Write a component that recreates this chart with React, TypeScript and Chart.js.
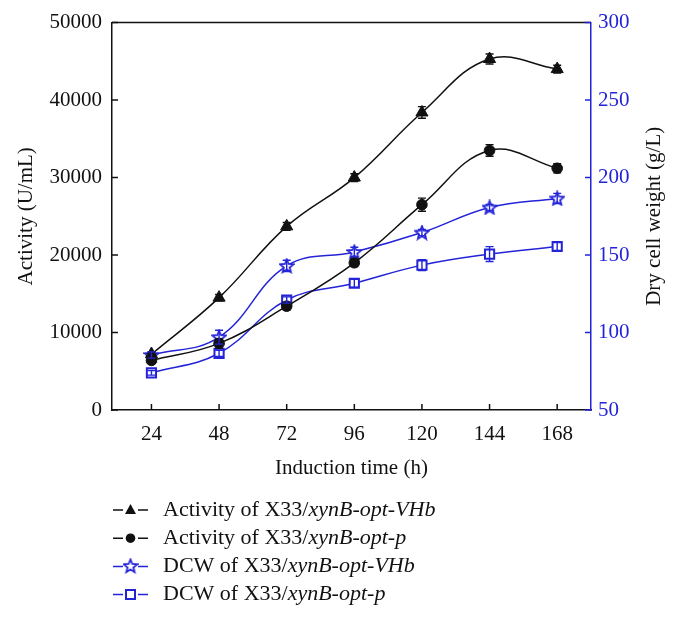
import React, { useEffect, useRef } from 'react';
import { Chart, registerables } from 'chart.js';

Chart.register(...registerables);

const hours = [24, 48, 72, 96, 120, 144, 168];
const activityVHb = [7200, 14500, 23700, 30000, 38400, 45300, 44000];
const activityVHbErr = [300, 400, 500, 500, 750, 650, 500];
const activityP = [6400, 8600, 13400, 19000, 26500, 33500, 31200];
const activityPErr = [400, 600, 500, 500, 850, 750, 600];
const dcwVHb = [85.5, 97, 143, 152, 164.5, 180.7, 186.5];
const dcwVHbErr = [2, 4.5, 3.6, 3, 2, 2, 3.3];
const dcwP = [74, 86.6, 121, 131.8, 143.5, 150.6, 155.5];
const dcwPErr = [1.5, 2, 2, 2.5, 3.5, 4.8, 2.5];

const leftTicks = [0, 10000, 20000, 30000, 40000, 50000];
const rightTicks = [50, 100, 150, 200, 250, 300];

const xTitle = 'Induction time (h)';
const leftTitle = 'Activity (U/mL)';
const rightTitle = 'Dry cell weight (g/L)';

const legendLabels = [
  [['Activity of X33/', false], ['xynB-opt-VHb', true]],
  [['Activity of X33/', false], ['xynB-opt-p', true]],
  [['DCW of X33/', false], ['xynB-opt-VHb', true]],
  [['DCW of X33/', false], ['xynB-opt-p', true]],
] as [string, boolean][][];

const BLUE = '#2323d8';
const BLACK = '#111111';
const FONT = "'Liberation Serif', 'Times New Roman', serif";

function makeStar(color: string): HTMLCanvasElement {
  const c = document.createElement('canvas');
  c.width = 16;
  c.height = 16;
  const ctx = c.getContext('2d')!;
  const cx = 8, cy = 8.5, R = 7, r = 3.1;
  ctx.beginPath();
  for (let i = 0; i < 10; i++) {
    const rad = i % 2 === 0 ? R : r;
    const a = -Math.PI / 2 + (i * Math.PI) / 5;
    const x = cx + rad * Math.cos(a);
    const y = cy + rad * Math.sin(a);
    if (i === 0) ctx.moveTo(x, y);
    else ctx.lineTo(x, y);
  }
  ctx.closePath();
  ctx.fillStyle = '#ffffff';
  ctx.fill();
  ctx.lineWidth = 1.8;
  ctx.strokeStyle = color;
  ctx.stroke();
  return c;
}

export default function App() {
  const ref = useRef<HTMLCanvasElement | null>(null);

  useEffect(() => {
    const canvas = ref.current;
    if (!canvas) return;
    const star = makeStar(BLUE);

    const errors = [activityVHbErr, activityPErr, dcwVHbErr, dcwPErr];

    const framePlugin = {
      id: 'frame',
      afterDraw(chart: any) {
        const { ctx, chartArea } = chart;
        const xs = chart.scales.x;
        const yl = chart.scales.y;
        const yr = chart.scales.y1;
        ctx.save();
        ctx.lineWidth = 1.5;
        ctx.strokeStyle = BLACK;
        ctx.beginPath();
        ctx.moveTo(chartArea.left, chartArea.top);
        ctx.lineTo(chartArea.right, chartArea.top);
        ctx.stroke();
        const tl = 6;
        ctx.beginPath();
        hours.forEach((h) => {
          const px = xs.getPixelForValue(h);
          ctx.moveTo(px, chartArea.bottom);
          ctx.lineTo(px, chartArea.bottom - tl);
        });
        leftTicks.forEach((v) => {
          const py = yl.getPixelForValue(v);
          ctx.moveTo(chartArea.left, py);
          ctx.lineTo(chartArea.left + tl, py);
        });
        ctx.stroke();
        ctx.strokeStyle = BLUE;
        ctx.beginPath();
        rightTicks.forEach((v) => {
          const py = yr.getPixelForValue(v);
          ctx.moveTo(chartArea.right, py);
          ctx.lineTo(chartArea.right - tl, py);
        });
        ctx.stroke();

        ctx.fillStyle = BLACK;
        ctx.font = `21px ${FONT}`;
        ctx.textAlign = 'center';
        ctx.textBaseline = 'middle';
        const midY = (chartArea.top + chartArea.bottom) / 2;
        ctx.fillText(xTitle, (chartArea.left + chartArea.right) / 2, chartArea.bottom + 58);
        ctx.save();
        ctx.translate(chartArea.left - 86, midY);
        ctx.rotate(-Math.PI / 2);
        ctx.fillText(leftTitle, 0, 0);
        ctx.restore();
        ctx.save();
        ctx.translate(chartArea.right + 63, midY);
        ctx.rotate(-Math.PI / 2);
        ctx.fillText(rightTitle, 0, 0);
        ctx.restore();

        const lx = chartArea.left + 1;
        const rowY0 = chartArea.bottom + 100;
        const rowGap = 28.2;
        chart.data.datasets.forEach((ds: any, i: number) => {
          const y = rowY0 + i * rowGap;
          const col = ds.borderColor;
          ctx.strokeStyle = col;
          ctx.lineWidth = 1.5;
          ctx.beginPath();
          ctx.moveTo(lx, y);
          ctx.lineTo(lx + 10, y);
          ctx.moveTo(lx + 25, y);
          ctx.lineTo(lx + 35, y);
          ctx.stroke();
          const mx = lx + 17.5;
          if (ds.pointStyle === 'triangle') {
            ctx.fillStyle = col;
            ctx.beginPath();
            ctx.moveTo(mx, y - 6);
            ctx.lineTo(mx + 5.5, y + 4);
            ctx.lineTo(mx - 5.5, y + 4);
            ctx.closePath();
            ctx.fill();
          } else if (ds.pointStyle === 'circle') {
            ctx.fillStyle = col;
            ctx.beginPath();
            ctx.arc(mx, y, 4.8, 0, Math.PI * 2);
            ctx.fill();
          } else if (ds.pointStyle === 'rect') {
            ctx.fillStyle = '#fff';
            ctx.lineWidth = 2;
            ctx.beginPath();
            ctx.rect(mx - 4.5, y - 4.5, 9, 9);
            ctx.fill();
            ctx.stroke();
          } else {
            ctx.drawImage(star, mx - 8, y - 8.5);
          }
          let tx = lx + 50;
          ctx.fillStyle = BLACK;
          ctx.textAlign = 'left';
          ctx.textBaseline = 'middle';
          legendLabels[i].forEach(([t, it]) => {
            ctx.font = `${it ? 'italic ' : ''}22px ${FONT}`;
            ctx.fillText(t, tx, y);
            tx += ctx.measureText(t).width;
          });
        });
        ctx.restore();
      },
    };

    const errorPlugin = {
      id: 'errbars',
      afterDatasetsDraw(chart: any) {
        const { ctx } = chart;
        ctx.save();
        chart.data.datasets.forEach((ds: any, i: number) => {
          const ys = chart.scales[ds.yAxisID];
          const xs = chart.scales.x;
          ctx.strokeStyle = ds.borderColor;
          ctx.lineWidth = 1.4;
          ds.data.forEach((p: any, j: number) => {
            const e = errors[i][j];
            const px = xs.getPixelForValue(p.x);
            const top = ys.getPixelForValue(p.y + e);
            const bot = ys.getPixelForValue(p.y - e);
            ctx.beginPath();
            ctx.moveTo(px, top);
            ctx.lineTo(px, bot);
            ctx.moveTo(px - 4, top);
            ctx.lineTo(px + 4, top);
            ctx.moveTo(px - 4, bot);
            ctx.lineTo(px + 4, bot);
            ctx.stroke();
          });
        });
        ctx.restore();
      },
    };

    const toPts = (arr: number[]) => arr.map((v, i) => ({ x: hours[i], y: v }));
    const plain = (v: any) => String(v);

    const chart = new Chart(canvas, {
      type: 'line',
      data: {
        datasets: [
          {
            label: 'Activity VHb',
            data: toPts(activityVHb),
            yAxisID: 'y',
            borderColor: BLACK,
            backgroundColor: BLACK,
            borderWidth: 1.5,
            pointStyle: 'triangle',
            pointRadius: 7,
            pointBorderWidth: 1,
            tension: 0.4,
          },
          {
            label: 'Activity p',
            data: toPts(activityP),
            yAxisID: 'y',
            borderColor: BLACK,
            backgroundColor: BLACK,
            borderWidth: 1.5,
            pointStyle: 'circle',
            pointRadius: 5.3,
            pointBorderWidth: 1,
            tension: 0.4,
          },
          {
            label: 'DCW VHb',
            data: toPts(dcwVHb),
            yAxisID: 'y1',
            borderColor: BLUE,
            backgroundColor: '#ffffff',
            borderWidth: 1.5,
            pointStyle: star as any,
            pointRadius: 7,
            tension: 0.4,
          },
          {
            label: 'DCW p',
            data: toPts(dcwP),
            yAxisID: 'y1',
            borderColor: BLUE,
            backgroundColor: '#ffffff',
            borderWidth: 1.5,
            pointStyle: 'rect',
            pointRadius: 6.5,
            pointBorderWidth: 2,
            tension: 0.4,
          },
        ],
      },
      options: {
        animation: false,
        responsive: false,
        maintainAspectRatio: false,
        layout: { padding: { left: 0, right: 0, top: 22, bottom: 0 } },
        plugins: {
          legend: { display: false },
          tooltip: { enabled: false },
          title: { display: false },
        },
        scales: {
          x: {
            type: 'linear',
            position: 'bottom',
            min: 10,
            max: 180,
            afterBuildTicks: (s: any) => {
              s.ticks = hours.map((h) => ({ value: h }));
            },
            afterFit: (s: any) => {
              s.height = 209;
            },
            grid: { display: true, drawOnChartArea: false, drawTicks: false },
            border: { display: true, color: BLACK, width: 1.5 },
            ticks: {
              color: BLACK,
              font: { family: FONT, size: 21 },
              padding: 12,
              maxRotation: 0,
              autoSkip: false,
              callback: plain,
            },
          },
          y: {
            type: 'linear',
            position: 'left',
            min: 0,
            max: 50000,
            afterBuildTicks: (s: any) => {
              s.ticks = leftTicks.map((v) => ({ value: v }));
            },
            afterFit: (s: any) => {
              s.width = 112;
            },
            grid: { display: true, drawOnChartArea: false, drawTicks: false },
            border: { display: true, color: BLACK, width: 1.5 },
            ticks: {
              color: BLACK,
              font: { family: FONT, size: 21 },
              padding: 10,
              callback: plain,
            },
          },
          y1: {
            type: 'linear',
            position: 'right',
            min: 50,
            max: 300,
            afterBuildTicks: (s: any) => {
              s.ticks = rightTicks.map((v) => ({ value: v }));
            },
            afterFit: (s: any) => {
              s.width = 85;
            },
            grid: { display: true, drawOnChartArea: false, drawTicks: false },
            border: { display: true, color: BLUE, width: 1.5 },
            ticks: {
              color: BLUE,
              font: { family: FONT, size: 21 },
              padding: 7,
              callback: plain,
            },
          },
        },
      },
      plugins: [errorPlugin, framePlugin],
    });

    return () => chart.destroy();
  }, []);

  return (
    <div style={{ position: 'absolute', left: 0, top: 0, width: 676, height: 619, background: '#fff' }}>
      <canvas ref={ref} width={676} height={619} style={{ display: 'block' }} />
    </div>
  );
}
